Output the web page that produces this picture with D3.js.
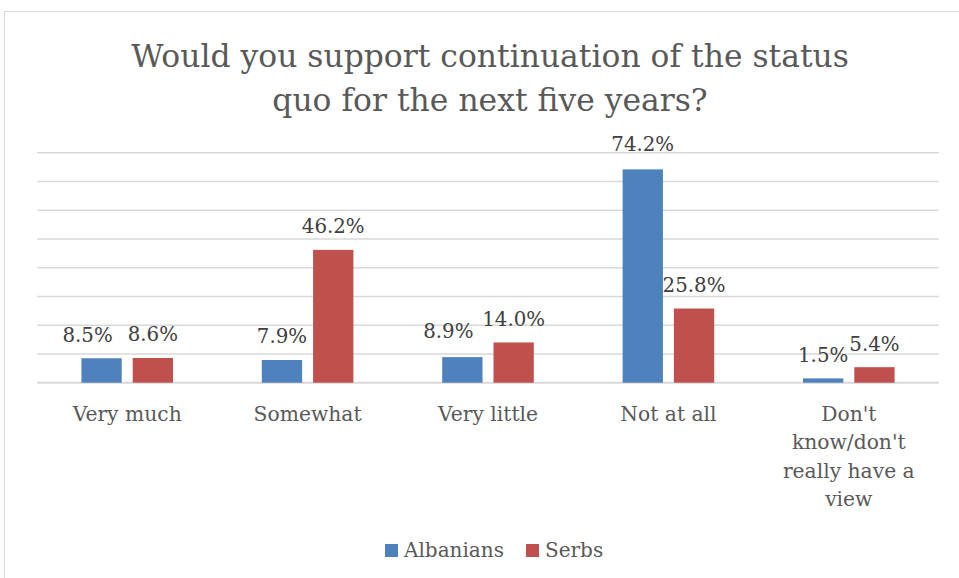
<!DOCTYPE html>
<html><head><meta charset="utf-8">
<script src="https://cdn.jsdelivr.net/npm/d3@7"></script>
<style>body{margin:0;background:#fff}svg{display:block}text{font-family:"DejaVu Serif",serif}</style>
</head><body>
<svg id="c" width="959" height="578"></svg>
<script>
const categories = ["Very much","Somewhat","Very little","Not at all","Don't know/don't really have a view"];
const categoryLines = [["Very much"],["Somewhat"],["Very little"],["Not at all"],["Don't","know/don't","really have a","view"]];
const seriesNames = ["Albanians","Serbs"];
const albanians = [8.5,7.9,8.9,74.2,1.5];
const serbs = [8.6,46.2,14.0,25.8,5.4];
const yTicks = [0,10,20,30,40,50,60,70,80];
const colors = ["#4F81BD","#C0504D"];
const titleLines = ["Would you support continuation of the status","quo for the next five years?"];

const svg = d3.select("#c");
svg.append("rect").attr("x",4.5).attr("y",11.5).attr("width",970).attr("height",600)
  .attr("fill","#fff").attr("stroke","#D9D9D9").attr("stroke-width",1);

const pL=37,pR=939,pT=152.7,pB=382.7;
const x0 = d3.scaleBand().domain(categories).range([pL,pR]).paddingInner(0).paddingOuter(0);
const x1 = d3.scaleBand().domain(seriesNames).range([0,x0.bandwidth()]).paddingInner(0.214).paddingOuter(0.866);
const y = d3.scaleLinear().domain([0,80]).range([pB,pT]);

// manual data-label nudges as placed in the source chart [dx, dy] per category for the first series
const labelNudge = [[-14,0],[0,0],[-14,-3],[0,-2],[0,0]];

svg.append("g").selectAll("line").data(yTicks).join("line")
  .attr("x1",pL).attr("x2",pR).attr("y1",d=>y(d)).attr("y2",d=>y(d))
  .attr("stroke","#D9D9D9").attr("stroke-width",d=>d===0?2:1.5);

const data = categories.map((c,i)=>({c, i, vals:[albanians[i],serbs[i]]}));
const g = svg.append("g").selectAll("g").data(data).join("g").attr("transform",d=>`translate(${x0(d.c)},0)`);
g.selectAll("rect").data(d=>d.vals.map((v,j)=>({v,s:seriesNames[j],j,i:d.i}))).join("rect")
  .attr("x",d=>x1(d.s)).attr("width",x1.bandwidth())
  .attr("y",d=>y(d.v)).attr("height",d=>pB-y(d.v)).attr("fill",d=>colors[d.j]);
g.selectAll("text.lbl").data(d=>d.vals.map((v,j)=>({v,s:seriesNames[j],j,i:d.i}))).join("text").attr("class","lbl")
  .attr("x",d=>x1(d.s)+x1.bandwidth()/2+(d.j===0?labelNudge[d.i][0]:0))
  .attr("y",d=>y(d.v)-16.5+(d.j===0?labelNudge[d.i][1]:0))
  .attr("text-anchor","middle").attr("font-size",19.8).attr("fill","#404040")
  .text(d=>d.v.toFixed(1)+"%");

categories.forEach((c,i)=>{
  const t = svg.append("text").attr("text-anchor","middle").attr("font-size",20.3).attr("fill","#595959")
    .attr("x",x0(c)+x0.bandwidth()/2).attr("y",421);
  categoryLines[i].forEach((l,k)=>t.append("tspan").attr("x",x0(c)+x0.bandwidth()/2).attr("dy",k?28.3:0).text(l));
});

const tt = svg.append("text").attr("text-anchor","middle").attr("font-size",31.4).attr("fill","#595959");
titleLines.forEach((l,k)=>tt.append("tspan").attr("x",490).attr("y",67+k*44).text(l));

const leg = svg.append("g");
const legX=[385,526];
seriesNames.forEach((s,j)=>{
  leg.append("rect").attr("x",legX[j]).attr("y",544).attr("width",13).attr("height",13).attr("fill",colors[j]);
  leg.append("text").attr("x",legX[j]+19).attr("y",557).attr("font-size",20).attr("fill","#595959").text(s);
});
</script>
</body></html>
